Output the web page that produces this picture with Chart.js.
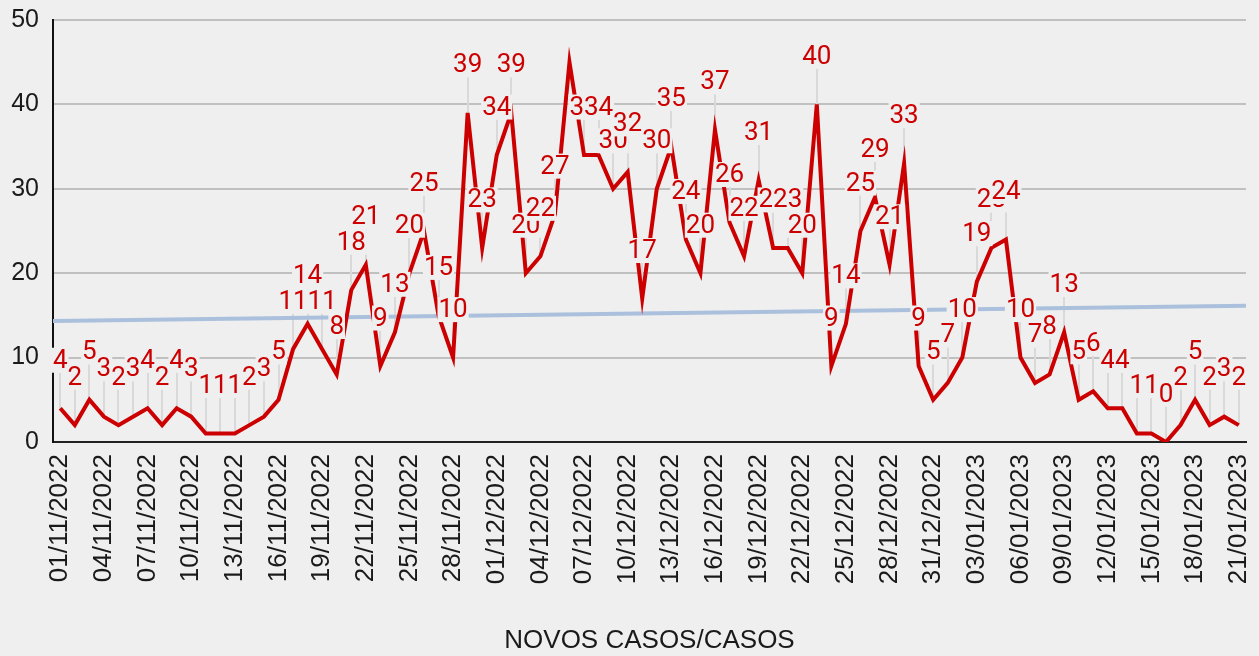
<!DOCTYPE html>
<html>
<head>
<meta charset="utf-8">
<script src="https://cdn.jsdelivr.net/npm/chart.js@4/dist/chart.umd.min.js"></script>
<style>
  html, body { margin: 0; padding: 0; background: #efefef; }
  #wrap { width: 1259px; height: 656px; }
</style>
</head>
<body>
<div id="wrap"><canvas id="c" width="1259" height="656"></canvas></div>
<script>
const categories = [
  "01/11/2022","02/11/2022","03/11/2022","04/11/2022","05/11/2022","06/11/2022","07/11/2022","08/11/2022","09/11/2022","10/11/2022",
  "11/11/2022","12/11/2022","13/11/2022","14/11/2022","15/11/2022","16/11/2022","17/11/2022","18/11/2022","19/11/2022","20/11/2022",
  "21/11/2022","22/11/2022","23/11/2022","24/11/2022","25/11/2022","26/11/2022","27/11/2022","28/11/2022","29/11/2022","30/11/2022",
  "01/12/2022","02/12/2022","03/12/2022","04/12/2022","05/12/2022","06/12/2022","07/12/2022","08/12/2022","09/12/2022","10/12/2022",
  "11/12/2022","12/12/2022","13/12/2022","14/12/2022","15/12/2022","16/12/2022","17/12/2022","18/12/2022","19/12/2022","20/12/2022",
  "21/12/2022","22/12/2022","23/12/2022","24/12/2022","25/12/2022","26/12/2022","27/12/2022","28/12/2022","29/12/2022","30/12/2022",
  "31/12/2022","01/01/2023","02/01/2023","03/01/2023","04/01/2023","05/01/2023","06/01/2023","07/01/2023","08/01/2023","09/01/2023",
  "10/01/2023","11/01/2023","12/01/2023","13/01/2023","14/01/2023","15/01/2023","16/01/2023","17/01/2023","18/01/2023","19/01/2023",
  "20/01/2023","21/01/2023"
];
const novosCasos = [
  4,2,5,3,2,3,4,2,4,3,1,1,1,2,3,5,11,14,11,8,18,21,9,13,20,25,15,10,39,23,
  34,39,20,22,27,45,34,34,30,32,17,30,35,24,20,37,26,22,31,23,23,20,40,9,14,25,29,21,33,9,5,
  7,10,19,23,24,10,7,8,13,5,6,4,4,1,1,0,2,5,2,3,2
];
const trendStart = 14.34;
const trendEnd = 16.15;
const yMin = 0, yMax = 50, yStep = 10;
const tickEvery = 3;
const axisTitle = "NOVOS CASOS/CASOS";

const LABEL_OFFSET = 48;
const LABEL_FONT = "26px Roboto";
const LABEL_H = 25;

const pointLabels = {
  id: "pointLabels",
  beforeDatasetsDraw(chart) {
    const meta = chart.getDatasetMeta(0);
    const ctx = chart.ctx;
    ctx.save();
    ctx.strokeStyle = "#d9d9d9";
    ctx.lineWidth = 2;
    meta.data.forEach((pt) => {
      const ly = pt.y - LABEL_OFFSET;
      if (ly < chart.chartArea.top) return;
      ctx.beginPath();
      ctx.moveTo(Math.round(pt.x), ly + LABEL_H / 2);
      ctx.lineTo(Math.round(pt.x), pt.y);
      ctx.stroke();
    });
    ctx.restore();
  },
  afterDatasetsDraw(chart) {
    const meta = chart.getDatasetMeta(0);
    const ds = chart.data.datasets[0].data;
    const ctx = chart.ctx;
    ctx.save();
    ctx.font = LABEL_FONT;
    ctx.textAlign = "center";
    ctx.textBaseline = "middle";
    meta.data.forEach((pt, i) => {
      const ly = pt.y - LABEL_OFFSET;
      if (ly < chart.chartArea.top) return;
      const txt = String(ds[i]);
      const w = ctx.measureText(txt).width;
      ctx.fillStyle = "#efefef";
      ctx.fillRect(pt.x - w / 2 - 1, ly - LABEL_H / 2, w + 2, LABEL_H);
      ctx.fillStyle = "#cc0000";
      ctx.fillText(txt, pt.x, ly + 1);
    });
    ctx.restore();
  }
};

new Chart(document.getElementById("c"), {
  type: "line",
  data: {
    labels: categories,
    datasets: [
      {
        label: "Novos casos",
        data: novosCasos,
        borderColor: "#cc0000",
        borderWidth: 4,
        pointRadius: 0,
        tension: 0,
        fill: false,
        order: 0,
        xAxisID: "x",
        yAxisID: "y"
      },
      {
        label: "Tendência",
        data: [{ x: -0.5, y: trendStart }, { x: categories.length - 0.5, y: trendEnd }],
        borderColor: "#aac0dc",
        borderWidth: 4,
        pointRadius: 0,
        fill: false,
        order: 1,
        xAxisID: "x2",
        yAxisID: "y"
      }
    ]
  },
  options: {
    responsive: false,
    animation: false,
    devicePixelRatio: 1,
    layout: { padding: { top: 20, right: 13, left: 0, bottom: 0 } },
    plugins: { legend: { display: false }, tooltip: { enabled: false } },
    scales: {
      x: {
        type: "category",
        offset: true,
        grid: { display: false, drawTicks: false },
        border: { display: true, color: "#222222", width: 2 },
        ticks: {
          autoSkip: false,
          minRotation: 90,
          maxRotation: 90,
          padding: 12,
          color: "#1a1a1a",
          font: { family: "'Liberation Sans', Arial, sans-serif", size: 26 },
          callback: function (v, i) { return i % tickEvery === 0 ? categories[i] : null; }
        },
        title: {
          display: true,
          text: axisTitle,
          color: "#1a1a1a",
          font: { family: "'Liberation Sans', Arial, sans-serif", size: 26 },
          padding: { top: 0, bottom: 0 }
        },
        afterFit: (s) => { s.height = 214; s.paddingLeft = 0; s.paddingRight = 0; }
      },
      x2: {
        type: "linear",
        display: false,
        offset: false,
        min: -0.5,
        max: categories.length - 0.5
      },
      y: {
        min: yMin,
        max: yMax,
        ticks: {
          stepSize: yStep,
          padding: 14,
          color: "#1a1a1a",
          font: { family: "'Liberation Sans', Arial, sans-serif", size: 25 }
        },
        grid: { color: "#c0c0c0", lineWidth: 2, drawTicks: false },
        border: { display: true, color: "#111111", width: 2 },
        afterFit: (s) => { s.width = 53; s.paddingTop = 0; s.paddingBottom = 0; }
      }
    }
  },
  plugins: [pointLabels]
});
</script>
</body>
</html>
